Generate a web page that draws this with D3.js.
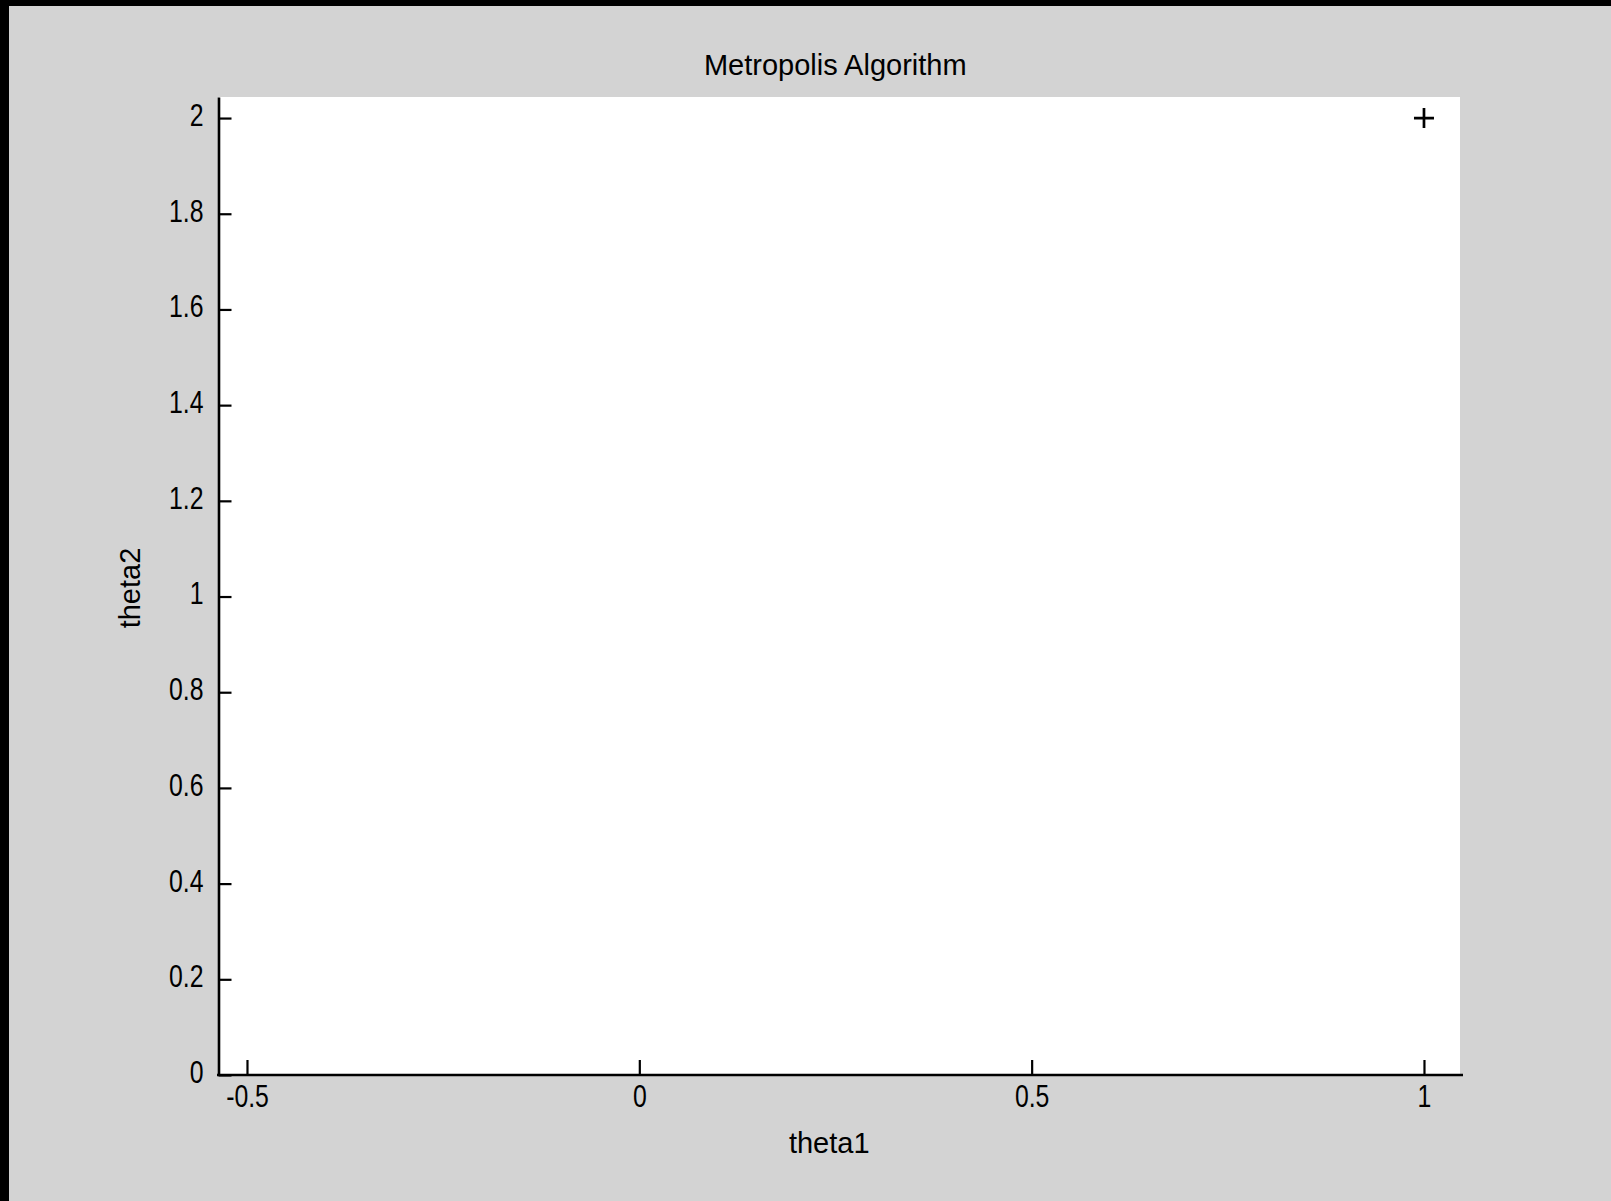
<!DOCTYPE html>
<html>
<head>
<meta charset="utf-8">
<script src="https://cdn.jsdelivr.net/npm/d3@7/dist/d3.min.js"></script>
<style>
  html, body { margin: 0; padding: 0; background: #000; }
  svg { display: block; }
  text { fill: #000; }
</style>
</head>
<body>
<script>
// Chain state of the Metropolis sampler (theta1, theta2)
const theta1 = [1];
const theta2 = [2];

// Axis limits and ticks
const xLimits = [-0.5363, 1.0459];
const yLimits = [0, 2.044];
const xTicks = [-0.5, 0, 0.5, 1];
const xTickLabels = ["-0.5", "0", "0.5", "1"];
const yTicks = [0, 0.2, 0.4, 0.6, 0.8, 1, 1.2, 1.4, 1.6, 1.8, 2];
const yTickLabels = ["0", "0.2", "0.4", "0.6", "0.8", "1", "1.2", "1.4", "1.6", "1.8", "2"];

const titleText = "Metropolis Algorithm";
const xLabelText = "theta1";
const yLabelText = "theta2";

const W = 1611, H = 1201;
const plot = { left: 218.5, right: 1460, top: 97, bottom: 1075 };
const labelFont = "'Liberation Sans', Arial, Helvetica, sans-serif";
const tickFont = "'Liberation Sans', Arial, sans-serif";
const tickSqueeze = 0.8;   // condensed digits on the tick labels

const svg = d3.select("body").append("svg")
  .attr("width", W).attr("height", H);

// window frame and figure background
svg.append("rect").attr("width", W).attr("height", H).attr("fill", "#000");
svg.append("rect").attr("x", 9).attr("y", 6).attr("width", W - 9).attr("height", H - 6).attr("fill", "#d3d3d3");

const x = d3.scaleLinear().domain(xLimits).range([plot.left, plot.right]);
const y = d3.scaleLinear().domain(yLimits).range([plot.bottom, plot.top]);

// axes background
svg.append("rect")
  .attr("x", plot.left).attr("y", plot.top)
  .attr("width", plot.right - plot.left).attr("height", plot.bottom - plot.top)
  .attr("fill", "#fff");

// x axis
const xAxis = svg.append("g")
  .attr("transform", `translate(0,${plot.bottom})`)
  .call(d3.axisBottom(x)
    .tickValues(xTicks)
    .tickFormat((d, i) => xTickLabels[i])
    .tickSizeInner(-15).tickSizeOuter(0).tickPadding(10));
xAxis.select(".domain").attr("stroke", "#000").attr("stroke-width", 2.6)
  .attr("d", `M${plot.left - 1.5},0H${plot.right + 3}`);

// y axis
const yAxis = svg.append("g")
  .attr("transform", `translate(${plot.left},0)`)
  .call(d3.axisLeft(y)
    .tickValues(yTicks)
    .tickFormat((d, i) => yTickLabels[i])
    .tickSizeInner(-13).tickSizeOuter(0).tickPadding(15));
yAxis.select(".domain").attr("stroke", "#000").attr("stroke-width", 2.6);

[xAxis, yAxis].forEach(g => {
  g.selectAll(".tick line").attr("stroke", "#000").attr("stroke-width", 2.2);
  g.selectAll(".tick text")
    .attr("fill", "#000")
    .style("font-family", tickFont)
    .style("font-size", "31px")
    .attr("transform", `scale(${tickSqueeze},1)`);
});
yAxis.selectAll(".tick text").attr("dy", "0.24em").attr("x", -15 / tickSqueeze);

// samples as '+' markers
const pts = theta1.map((t, i) => [t, theta2[i]]);
const half = 10;
const marks = svg.append("g").attr("stroke", "#000").attr("stroke-width", 2.7).attr("fill", "none");
marks.selectAll("path").data(pts).join("path")
  .attr("d", d => {
    const px = x(d[0]), py = y(d[1]);
    return `M${px - half},${py}H${px + half}M${px},${py - half}V${py + half}`;
  });

// title and axis labels
const cx = (plot.left + plot.right) / 2;
svg.append("text")
  .attr("x", cx - 4).attr("y", 75)
  .attr("text-anchor", "middle")
  .style("font-family", labelFont).style("font-size", "29px")
  .text(titleText);

svg.append("text")
  .attr("x", cx - 10).attr("y", 1153)
  .attr("text-anchor", "middle")
  .style("font-family", labelFont).style("font-size", "29px")
  .text(xLabelText);

svg.append("text")
  .attr("transform", `translate(140,${(plot.top + plot.bottom) / 2 + 2}) rotate(-90)`)
  .attr("text-anchor", "middle")
  .style("font-family", labelFont).style("font-size", "29px")
  .text(yLabelText);
</script>
</body>
</html>
